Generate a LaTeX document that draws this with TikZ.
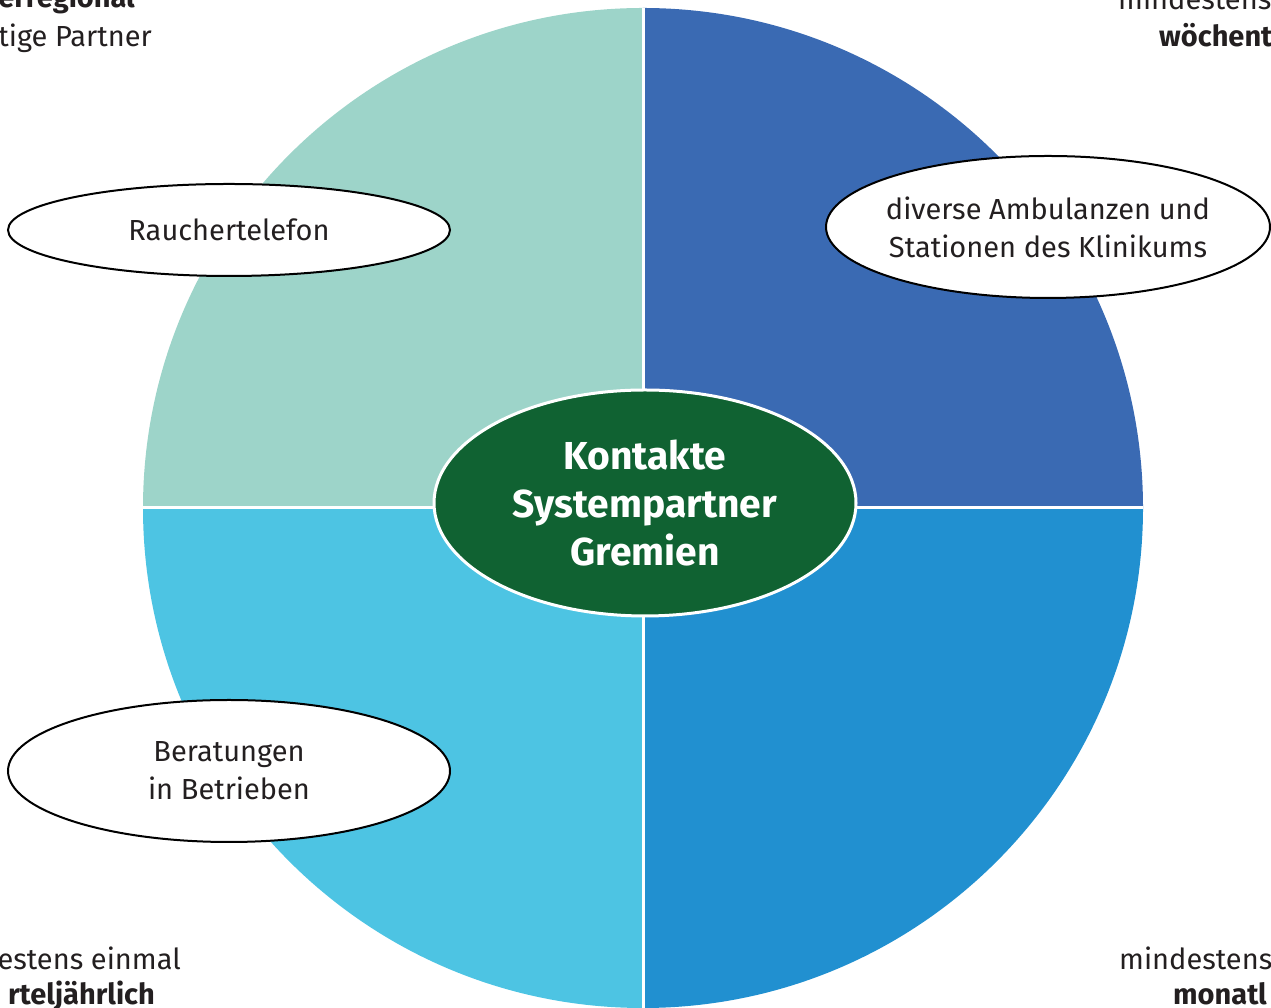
\documentclass[tikz,border=0pt]{standalone}
\usepackage{fontspec}
\setmainfont{Fira Sans}
\usetikzlibrary{shapes.geometric}
\definecolor{qtl}{HTML}{9DD4C9}
\definecolor{qtr}{HTML}{3A6AB3}
\definecolor{qbr}{HTML}{2190D0}
\definecolor{qbl}{HTML}{4DC4E3}
\definecolor{cgreen}{HTML}{106232}
\definecolor{ctext}{HTML}{231F20}
\tikzset{
  oval/.style={ellipse, draw=black, line width=2pt, fill=white, inner sep=0pt, align=center,
     font=\fontsize{29}{38}\selectfont, text=ctext},
  corner/.style={font=\fontsize{29}{36}\selectfont, text=ctext, inner sep=0pt},
  cornerb/.style={corner, font=\fontsize{29}{36}\selectfont\bfseries}
}
\begin{document}
\begin{tikzpicture}[x=1pt,y=1pt]
\useasboundingbox (0,0) rectangle (1271,1008);
\clip (0,0) rectangle (1271,1008);
\coordinate (c) at (643,500);
\fill[qtr] (c) -- ++(0,500) arc[start angle=90,end angle=0,radius=500] -- cycle;
\fill[qbr] (c) -- ++(500,0) arc[start angle=0,end angle=-90,radius=500] -- cycle;
\fill[qbl] (c) -- ++(0,-500) arc[start angle=-90,end angle=-180,radius=500] -- cycle;
\fill[qtl] (c) -- ++(-500,0) arc[start angle=180,end angle=90,radius=500] -- cycle;
\coordinate (top) at (643,1000);
\coordinate (bot) at (643,0);
\coordinate (lft) at (143,500);
\coordinate (rgt) at (1143,500);
\draw[white, line width=3pt] (top) -- (bot);
\draw[white, line width=3pt] (lft) -- (rgt);
\node[ellipse, fill=cgreen, draw=white, line width=3pt, minimum width=422pt, minimum height=226pt,
  inner sep=0pt, align=center, text=white, font=\fontsize{39}{48}\selectfont\bfseries] (center) at (645,505)
  {Kontakte\\Systempartner\\Gremien};
\node[oval, minimum width=442pt, minimum height=92pt] (rauch) at (229,778) {Rauchertelefon};
\node[oval, inner xsep=-8pt, minimum width=444pt, minimum height=142pt] (amb) at (1048,781) {diverse Ambulanzen und\\Stationen des Klinikums};
\node[oval, minimum width=442pt, minimum height=142pt] (ber) at (229,237) {Beratungen\\in Betrieben};
% corner texts (cropped at the picture edge, as in the reference)
\node[cornerb, anchor=base east] (tl1) at (135,1000) {erregional};
\node[corner, anchor=base east] (tl2) at (152,961) {tige Partner};
\node[corner, anchor=base west] (tr1) at (1118,998) {mindestens};
\node[cornerb, anchor=base west] (tr2) at (1159,961) {wöchent};
\node[corner, anchor=base east] (bl1) at (181,38) {estens einmal};
\node[cornerb, anchor=base east] (bl2) at (155,3) {rteljährlich};
\node[corner, anchor=base west] (br1) at (1119,38) {mindestens};
\node[cornerb, anchor=base west] (br2) at (1173,3) {monatl};
\end{tikzpicture}
\end{document}
